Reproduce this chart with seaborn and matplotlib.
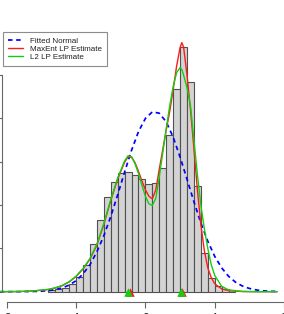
import matplotlib
matplotlib.use("Agg")
import matplotlib.pyplot as plt
import seaborn as sns
import numpy as np
import pandas as pd

# histogram (density), bin width 0.1
bin_left = [-1.4, -1.3, -1.2, -1.1, -1.0, -0.9, -0.8, -0.7, -0.6, -0.5, -0.4, -0.3, -0.2, -0.1,
            0.0, 0.1, 0.2, 0.3, 0.4, 0.5, 0.6, 0.7, 0.8, 0.9, 1.0, 1.1, 1.2]
bin_density = [0.006, 0.011, 0.018, 0.035, 0.068, 0.123, 0.220, 0.331, 0.437, 0.506, 0.546, 0.550,
               0.538, 0.518, 0.497, 0.503, 0.569, 0.721, 0.933, 1.130, 0.967, 0.489, 0.177, 0.063,
               0.026, 0.012, 0.006]
bin_width = 0.1

# fitted normal curve
normal_x = [-2.1, -1.8, -1.6, -1.5, -1.4, -1.3, -1.2, -1.1, -1.0, -0.9, -0.8, -0.7, -0.6, -0.5,
            -0.4, -0.3, -0.2, -0.1, 0.0, 0.1, 0.2, 0.3, 0.4, 0.5, 0.6, 0.7, 0.8, 0.9, 1.0, 1.1,
            1.2, 1.3, 1.4, 1.5, 1.6, 1.7, 1.8, 1.9]
normal_y = [0.0, 0.0003, 0.0012, 0.0025, 0.005, 0.0096, 0.0175, 0.0305, 0.051, 0.082, 0.125,
            0.184, 0.258, 0.347, 0.447, 0.552, 0.652, 0.738, 0.799, 0.829, 0.823, 0.783, 0.713,
            0.621, 0.519, 0.415, 0.317, 0.233, 0.163, 0.110, 0.071, 0.044, 0.026, 0.015, 0.008,
            0.004, 0.002, 0.001]

# LP estimates
lp_x = [-2.1, -1.8, -1.6, -1.4, -1.3, -1.2, -1.1, -1.0, -0.9, -0.8, -0.7, -0.6, -0.5, -0.4,
        -0.3, -0.25, -0.2, -0.15, -0.1, -0.05, 0.0, 0.05, 0.1, 0.15, 0.2, 0.25, 0.3, 0.35, 0.4,
        0.45, 0.5, 0.525, 0.55, 0.6, 0.65, 0.7, 0.75, 0.8, 0.85, 0.9, 0.95, 1.0, 1.1, 1.2, 1.4,
        1.6, 1.9]
maxent_y = [0, 0.001, 0.004, 0.010, 0.017, 0.028, 0.045, 0.07, 0.105, 0.15, 0.215, 0.31, 0.42,
            0.52, 0.597, 0.622, 0.620, 0.595, 0.555, 0.51, 0.47, 0.44, 0.428, 0.47, 0.565, 0.655,
            0.745, 0.83, 0.93, 1.04, 1.125, 1.148, 1.13, 1.0, 0.84, 0.66, 0.47, 0.31, 0.19, 0.11,
            0.065, 0.037, 0.013, 0.005, 0.001, 0, 0]
l2_y = [0, 0.001, 0.004, 0.011, 0.018, 0.029, 0.046, 0.072, 0.107, 0.153, 0.22, 0.315, 0.425,
        0.525, 0.603, 0.627, 0.622, 0.59, 0.545, 0.49, 0.44, 0.405, 0.398, 0.43, 0.53, 0.64,
        0.75, 0.855, 0.945, 1.01, 1.033, 1.025, 1.0, 0.94, 0.86, 0.70, 0.54, 0.40, 0.29, 0.20,
        0.125, 0.075, 0.025, 0.008, 0.001, 0, 0]

# modes marked on the axis
maxent_modes = [-0.22, 0.53]
l2_modes = [-0.245, 0.507]

x_ticks = [-2, -1, 0, 1, 2]
y_ticks = [0.0, 0.2, 0.4, 0.6, 0.8, 1.0]

sns.set_theme(style="white")
plt.rcParams['font.family'] = ['Liberation Sans', 'DejaVu Sans']

W, H = 284, 314
fig = plt.figure(figsize=(W / 100, H / 100), dpi=100)
ax = fig.add_axes([0, 0, 1, 1])

# pixel mapping of the reference: x=0 at px 149 (71 px per unit), y=0 at px 291.7 (216.9 px per unit)
ax.set_xlim(-149 / 71, (W - 149) / 71)
ax.set_ylim(-(H - 291.7) / 216.9, 291.7 / 216.9)

edges = bin_left + [bin_left[-1] + bin_width]
mids = [b + bin_width / 2 for b in bin_left]
sns.histplot(x=mids, weights=bin_density, bins=edges, stat="count", color="#d3d3d3",
             alpha=1, edgecolor="#505050", linewidth=0.8, ax=ax)

sns.lineplot(x=normal_x, y=normal_y, color="#0000ff", lw=1.25, ax=ax, label="Fitted Normal")
ax.lines[-1].set_dashes((2.6, 2.1))
sns.lineplot(x=lp_x, y=maxent_y, color="#ff1a1a", lw=1.0, ax=ax, label="MaxEnt LP Estimate")
sns.lineplot(x=lp_x, y=l2_y, color="#10d010", lw=1.0, ax=ax, label="L2 LP Estimate")

sns.scatterplot(x=maxent_modes, y=[0, 0], marker="^", color="#ff1a1a", s=38, linewidth=0,
                ax=ax, legend=False, zorder=5)
sns.scatterplot(x=l2_modes, y=[0, 0], marker="^", color="#10d010", s=38, linewidth=0,
                ax=ax, legend=False, zorder=6)

# R-style detached axes
for side in ["top", "right"]:
    ax.spines[side].set_visible(False)
ax.spines["left"].set_position(("data", (2.5 - 149) / 71))
ax.spines["left"].set_bounds(0, 1.0)
ax.spines["bottom"].set_position(("data", -(302 - 291.7) / 216.9))
ax.spines["bottom"].set_bounds(-2, 2)
for side in ["left", "bottom"]:
    ax.spines[side].set_color("#666666")
    ax.spines[side].set_linewidth(0.8)
    ax.spines[side].set_visible(True)

ax.set_xticks(x_ticks)
ax.set_yticks(y_ticks)
ax.set_xticklabels([str(t) for t in x_ticks])
ax.set_yticklabels(["%.1f" % t for t in y_ticks])
ax.tick_params(axis="both", direction="out", length=4.5, width=0.8, color="#666666",
               labelsize=8.6, labelcolor="#222222", bottom=True, left=True)
ax.tick_params(axis="x", pad=3.5)
ax.set_xlabel("")
ax.set_ylabel("")
ax.grid(False)
ax.set_facecolor("white")

leg = ax.legend(loc="upper left", bbox_to_anchor=(2.7 / W, 1 - 32.3 / H),
                bbox_transform=fig.transFigure, borderaxespad=0, fontsize=5.8,
                handlelength=1.9, handletextpad=0.95, labelspacing=0.05, borderpad=0.6,
                fancybox=False, framealpha=1, edgecolor="#8c8c8c")
leg.get_frame().set_linewidth(0.8)
for t in leg.get_texts():
    t.set_color("#222222")

fig.savefig("out.png", dpi=100)
